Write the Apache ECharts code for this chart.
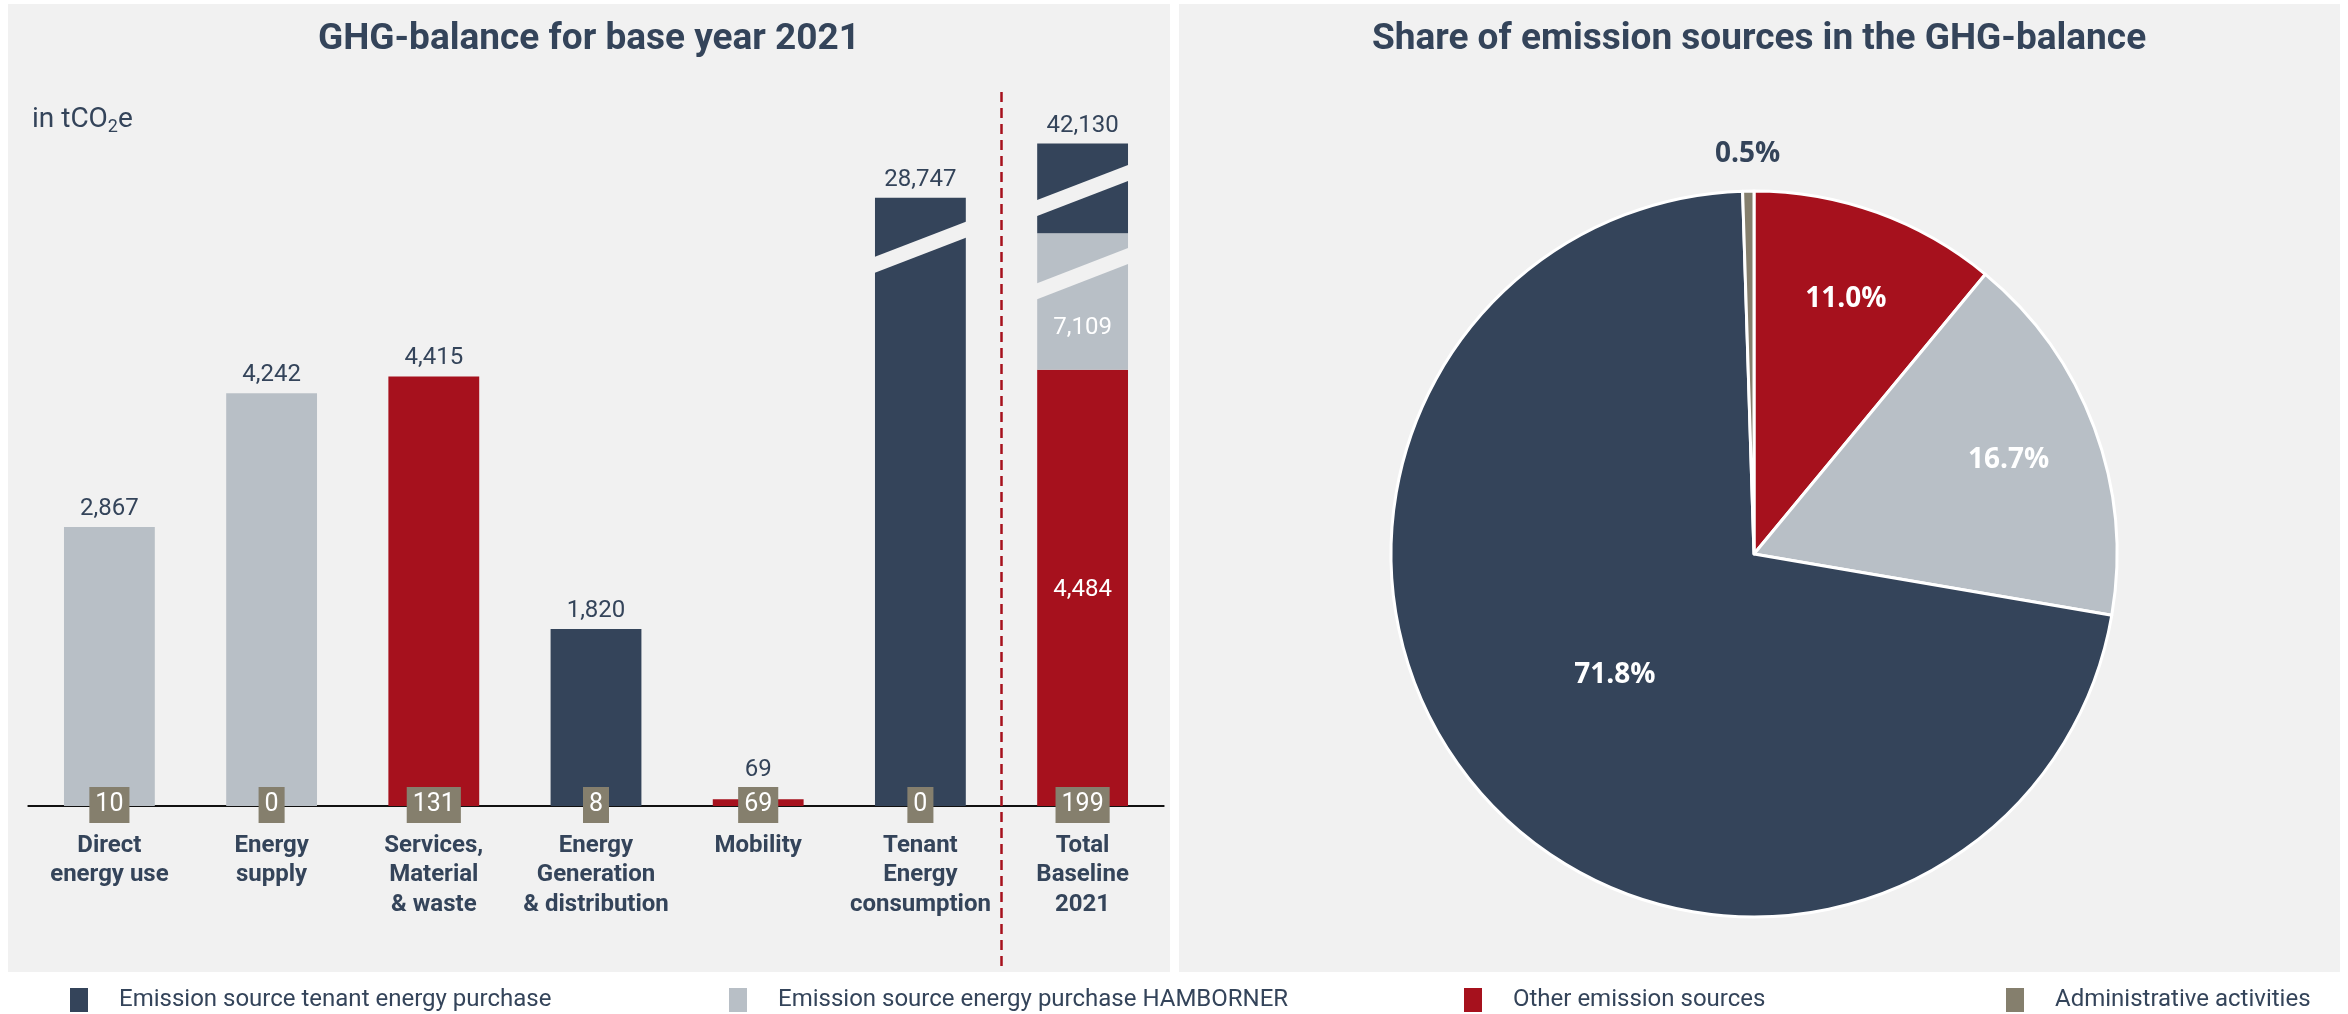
<!DOCTYPE html>
<html>
<head>
<meta charset="utf-8">
<script src="https://cdn.jsdelivr.net/npm/echarts@6/dist/echarts.min.js"></script>
<style>
  html, body { margin: 0; padding: 0; background: #ffffff; }
  #wrap { position: relative; width: 2348px; height: 1014px; }
  .panel { position: absolute; background: #f1f1f1; top: 4px; height: 968px; }
  #c { position: absolute; left: 0; top: 0; width: 2348px; height: 1014px; }
</style>
</head>
<body>
<div id="wrap">
  <div class="panel" style="left:8px;width:1162px;"></div>
  <div class="panel" style="left:1179px;width:1161px;"></div>
  <div id="c"></div>
</div>
<script>
// ---------------- DATA ----------------
const categories = ['Direct\nenergy use', 'Energy\nsupply', 'Services,\nMaterial\n& waste',
  'Energy\nGeneration\n& distribution', 'Mobility', 'Tenant\nEnergy\nconsumption', 'Total\nBaseline\n2021'];
const seriesNames = ['Emission source tenant energy purchase', 'Emission source energy purchase HAMBORNER',
  'Other emission sources', 'Administrative activities'];
const tenantPurchase    = [0, 0, 0, 1820, 0, 28747, 30537];
const hambornerPurchase = [2867, 4242, 0, 0, 0, 0, 7109];
const otherSources      = [0, 0, 4415, 0, 69, 0, 4484];
const adminActivities   = [10, 0, 131, 8, 69, 0, 199];
const barTotals         = [2867, 4242, 4415, 1820, 69, 28747, 42130];
const pieNames  = [seriesNames[2], seriesNames[1], seriesNames[0], seriesNames[3]];
const pieShares = [11.0, 16.7, 71.8, 0.5];

// broken-scale settings (value ranges hidden per bar)
const axisBreaks = { 5: [[5660, 28320]], 6: [[5390, 11260], [11950, 41730]] };

// ---------------- STYLE ----------------
const C = { tenant: '#34445a', hamb: '#b8bfc6', other: '#a6111d', admin: '#857f6d', text: '#34445a', panel: '#f1f1f1' };
const FONT = 'Roboto';
const PIE_FONT = 'Open Sans';
const BAR_RATIO = 0.56, GAP_PX = 16, SLANT_PX = 35;
const legendLeft = [70, 729, 1464, 2006];
const legendColors = [C.tenant, C.hamb, C.other, C.admin];
const fmt = v => v.toLocaleString('en-US');

function mapY(api, cat, v) {
  let shift = 0, gaps = 0;
  for (const [s, e] of (axisBreaks[cat] || [])) {
    if (v >= e) { shift += e - s; gaps++; }
    else if (v > s) { v = s; break; }
  }
  return api.coord([cat, v - shift])[1] - gaps * GAP_PX;
}

const segDefs = [
  { name: seriesNames[2], values: otherSources, color: C.other },
  { name: seriesNames[1], values: hambornerPurchase, color: C.hamb },
  { name: seriesNames[0], values: tenantPurchase, color: C.tenant }
];
const stackTotals = categories.map((_, i) => segDefs.reduce((a, d) => a + d.values[i], 0));
const bases = categories.map(() => 0);
const segSeries = segDefs.map(def => {
  const data = def.values.map((v, i) => {
    const b = bases[i]; bases[i] += v;
    return [i, b, b + v, (v > 0 && b + v < stackTotals[i]) ? 1 : 0];
  });
  return {
    type: 'custom', name: def.name, data, z: 3,
    itemStyle: { color: def.color },
    renderItem: (params, api) => {
      const cat = api.value(0), b = api.value(1), t = api.value(2), inner = api.value(3);
      if (!(t > b)) return null;
      const xc = api.coord([cat, 0])[0];
      const w = api.size([1, 0])[0] * BAR_RATIO;
      const y0 = mapY(api, cat, b), y1 = mapY(api, cat, t);
      const children = [{ type: 'rect', shape: { x: xc - w / 2, y: y1, width: w, height: Math.max(y0 - y1, 1) },
        style: { fill: def.color } }];
      if (inner) {
        let yTop = y1;
        for (const [s] of (axisBreaks[cat] || [])) { if (s > b && s < t) { yTop = mapY(api, cat, s); break; } }
        children.push({ type: 'text', x: xc, y: (y0 + yTop) / 2 + 2,
          style: { text: fmt(t - b), fill: '#ffffff', fontSize: 24, fontFamily: FONT, align: 'center', verticalAlign: 'middle' } });
      }
      return { type: 'group', children };
    }
  };
});

const breakData = [];
Object.keys(axisBreaks).forEach(k => axisBreaks[k].forEach(([s]) => breakData.push([+k, s])));

const pieLabel = (color, show) => ({ show, position: 'inside', formatter: p => p.value.toFixed(1) + '%',
  fontSize: 28, fontWeight: 'bold', color, fontFamily: PIE_FONT });

const option = {
  backgroundColor: 'transparent',
  animation: false,
  textStyle: { fontFamily: FONT },
  title: [
    { text: 'GHG-balance for base year 2021', left: 589, top: 19, textAlign: 'center', padding: 0,
      textStyle: { fontSize: 37, fontWeight: 'bold', color: C.text, fontFamily: FONT, lineHeight: 42 } },
    { text: 'Share of emission sources in the GHG-balance', left: 1759, top: 19, textAlign: 'center', padding: 0,
      textStyle: { fontSize: 37, fontWeight: 'bold', color: C.text, fontFamily: FONT, lineHeight: 42 } }
  ],
  legend: seriesNames.map((n, i) => ({
    data: [{ name: n, itemStyle: { color: legendColors[i] } }],
    left: legendLeft[i], top: 988, padding: 0, icon: 'rect', itemWidth: 18, itemHeight: 24,
    selectedMode: false,
    textStyle: { fontSize: 24, color: C.text, fontFamily: FONT, padding: [0, 0, 0, 26] }
  })),
  grid: { left: 28.3, right: 1184.3, top: 160, bottom: 208 },
  xAxis: {
    type: 'category', data: categories,
    axisLine: { lineStyle: { color: '#111111', width: 2 } },
    axisTick: { show: false }, splitLine: { show: false },
    axisLabel: { interval: 0, margin: 25, fontSize: 24, fontWeight: 'bold', color: C.text, lineHeight: 29.5, fontFamily: FONT }
  },
  yAxis: { type: 'value', min: 0, max: 6640, show: false },
  graphic: [
    { type: 'text', left: 32, top: 104,
      style: { text: 'in tCO{sub|2}e', fill: C.text, fontSize: 28, fontFamily: FONT, lineHeight: 32,
        rich: { sub: { fontSize: 18, lineHeight: 18, verticalAlign: 'bottom', fill: C.text, fontFamily: FONT } } } }
  ],
  series: [
    ...segSeries,
    { type: 'custom', name: '_breaks', data: breakData, z: 4, silent: true,
      renderItem: (params, api) => {
        const cat = api.value(0), s = api.value(1);
        const xc = api.coord([cat, 0])[0];
        const w = api.size([1, 0])[0] * BAR_RATIO;
        const yLow = mapY(api, cat, s), yHigh = yLow - GAP_PX;
        const sl = SLANT_PX / 2 * (w + 4) / w;
        const xl = xc - w / 2 - 2, xr = xc + w / 2 + 2;
        return { type: 'polygon', shape: { points: [[xl, yLow + sl], [xr, yLow - sl], [xr, yHigh - sl], [xl, yHigh + sl]] },
          style: { fill: C.panel } };
      } },
    { type: 'custom', name: '_totals', data: barTotals.map((v, i) => [i, v]), z: 5, silent: true,
      renderItem: (params, api) => {
        const cat = api.value(0), v = api.value(1);
        const xc = api.coord([cat, 0])[0];
        const y0 = api.coord([cat, 0])[1];
        const y = Math.min(mapY(api, cat, v) - 6, y0 - 24);
        return { type: 'text', x: xc, y,
          style: { text: fmt(v), fill: C.text, fontSize: 24, fontFamily: FONT, align: 'center', verticalAlign: 'bottom' } };
      } },
    { type: 'custom', name: seriesNames[3], data: adminActivities.map((v, i) => [i, v]), z: 6,
      itemStyle: { color: C.admin },
      renderItem: (params, api) => {
        const cat = api.value(0), v = api.value(1);
        const p = api.coord([cat, 0]);
        return { type: 'text', x: p[0], y: p[1] - 1,
          style: { text: fmt(v), fill: '#ffffff', fontSize: 25, fontFamily: FONT, lineHeight: 26,
            align: 'center', verticalAlign: 'middle', backgroundColor: C.admin, padding: [5, 6] } };
      } },
    { type: 'pie', name: '_pie', center: [1754, 554], radius: 363, startAngle: 90, clockwise: true,
      silent: true, legendHoverLink: false, emphasis: { disabled: true },
      itemStyle: { borderColor: '#ffffff', borderWidth: 3 },
      label: pieLabel('#ffffff', true),
      labelLine: { show: false },
      data: pieNames.map((n, i) => ({ name: n, value: pieShares[i],
        itemStyle: { color: [C.other, C.hamb, C.tenant, C.admin][i] },
        label: { show: i === 2 } })) },
    { type: 'pie', name: '_pieLabelsMid', center: [1754, 554], radius: [174, 363], startAngle: 90, clockwise: true,
      silent: true, legendHoverLink: false, emphasis: { disabled: true }, z: 5,
      itemStyle: { color: 'transparent', borderWidth: 0 },
      label: pieLabel('#ffffff', true),
      labelLine: { show: false },
      data: pieNames.map((n, i) => ({ name: n, value: pieShares[i], label: { show: i === 0 || i === 1 } })) },
    { type: 'pie', name: '_pieLabelsOut', center: [1754, 554], radius: [363, 431], startAngle: 90, clockwise: true,
      silent: true, legendHoverLink: false, emphasis: { disabled: true }, z: 5,
      itemStyle: { color: 'transparent', borderWidth: 0 },
      label: pieLabel(C.text, true),
      labelLine: { show: false },
      data: pieNames.map((n, i) => ({ name: n, value: pieShares[i], label: { show: i === 3 } })) }
  ]
};

const chart = echarts.init(document.getElementById('c'), null, { renderer: 'canvas', width: 2348, height: 1014 });
chart.setOption(option);
const xa = chart.convertToPixel({ xAxisIndex: 0 }, 5);
const xb = chart.convertToPixel({ xAxisIndex: 0 }, 6);
const xm = (xa + xb) / 2;
chart.setOption({
  graphic: [
    option.graphic[0],
    { type: 'line', shape: { x1: xm, y1: 92, x2: xm, y2: 972 }, z: 1,
      style: { stroke: C.other, lineWidth: 2.5, lineDash: [10, 6] } }
  ]
});
</script>
</body>
</html>
